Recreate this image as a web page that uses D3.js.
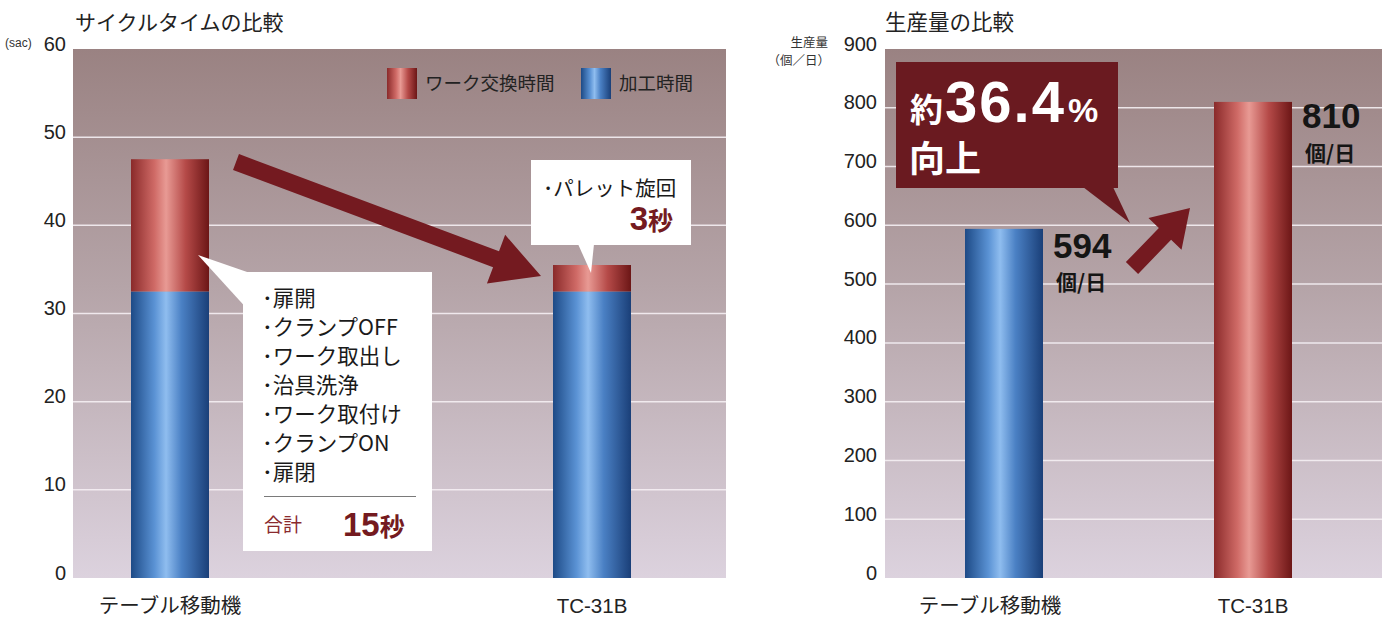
<!DOCTYPE html>
<html><head><meta charset="utf-8">
<script src="https://cdn.jsdelivr.net/npm/d3@7"></script>
<style>
html,body{margin:0;padding:0;background:#fff;}
svg{display:block;}
.jp{font-family:"Noto Sans CJK JP","Noto Sans",sans-serif;}
.num{font-family:"Liberation Sans Narrow","Liberation Sans",Arial,sans-serif;}
.bold{font-family:"Liberation Sans",Arial,sans-serif;font-weight:bold;}
</style></head>
<body>
<script>
// ---- data ----
const categories = ["テーブル移動機", "TC-31B"];
const machiningTime = [32.5, 32.5];      // 加工時間 (sec)
const workChangeTime = [15, 3];          // ワーク交換時間 (sec)
const cycleTicks = [0, 10, 20, 30, 40, 50, 60];
const production = [594, 810];           // 個/日
const productionTicks = [0, 100, 200, 300, 400, 500, 600, 700, 800, 900];
const seriesNames = ["ワーク交換時間", "加工時間"];
const changeSteps = ["扉開", "クランプOFF", "ワーク取出し", "治具洗浄", "ワーク取付け", "クランプON", "扉閉"];
const improvement = "36.4";

const W = 1382, H = 620;
const svg = d3.select("body").append("svg").attr("width", W).attr("height", H);
const defs = svg.append("defs");

function hGrad(id, stops){
  const g = defs.append("linearGradient").attr("id", id).attr("x1","0").attr("x2","1").attr("y1","0").attr("y2","0");
  stops.forEach(([o,c]) => g.append("stop").attr("offset", o).attr("stop-color", c));
}
hGrad("blueG", [["0","#1d4a86"],["0.3","#5a92d4"],["0.45","#8fbdef"],["0.65","#4a80c4"],["1","#1a3f78"]]);
hGrad("redG", [["0","#8a2a2a"],["0.3","#cf6a66"],["0.45","#e89a94"],["0.7","#b54a48"],["1","#6c1616"]]);
const bg = defs.append("linearGradient").attr("id","bgG").attr("x1","0").attr("x2","0").attr("y1","0").attr("y2","1");
[["0","#9a8282"],["0.45","#b5a4a8"],["1","#dcd2de"]].forEach(([o,c]) => bg.append("stop").attr("offset",o).attr("stop-color",c));

const yTop = 49, yBot = 578;
const dark = "#741a20";

// ================= LEFT CHART =================
const L = {x0: 73, x1: 726};
const yL = d3.scaleLinear().domain([0, 60]).range([yBot, yTop]);
const xL = d3.scalePoint().domain(categories).range([170, 592]);
const barW = 78;

svg.append("rect").attr("x", L.x0).attr("y", yTop).attr("width", L.x1 - L.x0).attr("height", yBot - yTop).attr("fill", "url(#bgG)");
svg.append("g").selectAll("line").data(cycleTicks.filter(t => t > 0 && t < 60)).join("line")
  .attr("x1", L.x0).attr("x2", L.x1).attr("y1", d => yL(d)).attr("y2", d => yL(d))
  .attr("stroke", "#f6f0f4").attr("stroke-width", 1.5).attr("opacity", 0.9);

const axL = svg.append("g").attr("transform", `translate(${L.x0 - 7},0)`)
  .call(d3.axisLeft(yL).tickValues(cycleTicks).tickSize(0).tickPadding(0));
axL.select(".domain").remove();
axL.selectAll("text").attr("class", "num").attr("font-size", 20).attr("fill", "#222").attr("dy", "0.05em");

svg.append("text").attr("class","num").attr("x", 5).attr("y", 47).attr("font-size", 12).attr("fill", "#333").text("(sac)");
svg.append("text").attr("class","jp").attr("x", 75).attr("y", 30).attr("font-size", 21).attr("fill", "#222").text("サイクルタイムの比較");

// stacked bars
const stacked = categories.map((c, i) => ({c, m: machiningTime[i], w: workChangeTime[i]}));
svg.append("g").selectAll("rect").data(stacked).join("rect")
  .attr("x", d => xL(d.c) - barW/2).attr("width", barW)
  .attr("y", d => yL(d.m)).attr("height", d => yL(0) - yL(d.m)).attr("fill", "url(#blueG)");
svg.append("g").selectAll("rect").data(stacked).join("rect")
  .attr("x", d => xL(d.c) - barW/2).attr("width", barW)
  .attr("y", d => yL(d.m + d.w)).attr("height", d => yL(d.m) - yL(d.m + d.w)).attr("fill", "url(#redG)");

svg.append("g").selectAll("text").data(categories).join("text")
  .attr("class", (d,i) => i === 0 ? "jp" : "num")
  .attr("x", d => xL(d)).attr("y", 613).attr("text-anchor", "middle")
  .attr("font-size", 20.5).attr("fill", "#222").text(d => d);

// legend
const legend = [{name: seriesNames[0], fill: "url(#redG)", x: 387}, {name: seriesNames[1], fill: "url(#blueG)", x: 581}];
const lg = svg.append("g").selectAll("g").data(legend).join("g").attr("transform", d => `translate(${d.x},68)`);
lg.append("rect").attr("width", 30).attr("height", 31).attr("fill", d => d.fill);
lg.append("text").attr("class","jp").attr("x", 38).attr("y", 22).attr("font-size", 18.5).attr("fill", "#222").text(d => d.name);

// big arrow
function arrow(g, x1, y1, x2, y2, shaftW, headW, headL){
  const dx = x2 - x1, dy = y2 - y1, len = Math.hypot(dx, dy);
  const ux = dx/len, uy = dy/len, px = -uy, py = ux;
  const bx = x2 - ux*headL, by = y2 - uy*headL;
  const pts = [
    [x1 + px*shaftW/2, y1 + py*shaftW/2],
    [bx + px*shaftW/2, by + py*shaftW/2],
    [bx + px*headW/2, by + py*headW/2],
    [x2, y2],
    [bx - px*headW/2, by - py*headW/2],
    [bx - px*shaftW/2, by - py*shaftW/2],
    [x1 - px*shaftW/2, y1 - py*shaftW/2]];
  g.append("polygon").attr("points", pts.map(p => p.join(",")).join(" ")).attr("fill", dark);
}
arrow(svg, 236, 162, 541, 276, 17, 52, 48);

// callout 1 (left)
svg.append("polygon").attr("points", "198,255 250,273 250,312").attr("fill", "#fff");
svg.append("rect").attr("x", 243).attr("y", 272).attr("width", 189).attr("height", 279).attr("fill", "#fff");
svg.append("g").selectAll("text").data(changeSteps).join("text")
  .attr("class","jp").attr("x", 262).attr("y", (d,i) => 306 + i*29).attr("font-size", 21.5).attr("fill", "#1a1a1a")
  .text(d => "･" + d);
svg.append("line").attr("x1", 264).attr("x2", 416).attr("y1", 496.5).attr("y2", 496.5).attr("stroke", "#7a7a7a").attr("stroke-width", 1);
svg.append("text").attr("class","jp").attr("x", 264).attr("y", 532).attr("font-size", 19).attr("fill", "#8a2a2e").text("合計");
const t15 = svg.append("text").attr("x", 343).attr("y", 536).attr("fill", dark);
t15.append("tspan").attr("class","bold").attr("font-size", 33).text(workChangeTime[0]);
t15.append("tspan").attr("class","jp").attr("font-weight", "bold").attr("font-size", 25).text("秒");

// callout 2 (TC-31B)
svg.append("rect").attr("x", 531).attr("y", 160).attr("width", 160).attr("height", 85).attr("fill", "#fff");
svg.append("polygon").attr("points", "578,244 594,244 591,273").attr("fill", "#fff");
svg.append("text").attr("class","jp").attr("x", 543).attr("y", 196).attr("font-size", 20.5).attr("fill", "#1a1a1a")
  .text("･パレット旋回");
const t3 = svg.append("text").attr("x", 673).attr("y", 230).attr("text-anchor", "end").attr("fill", dark);
t3.append("tspan").attr("class","bold").attr("font-size", 33).text(workChangeTime[1]);
t3.append("tspan").attr("class","jp").attr("font-weight", "bold").attr("font-size", 25).text("秒");

// ================= RIGHT CHART =================
const R = {x0: 885, x1: 1382};
const yR = d3.scaleLinear().domain([0, 900]).range([yBot, yTop]);
const xR = d3.scalePoint().domain(categories).range([1004, 1253]);

svg.append("rect").attr("x", R.x0).attr("y", yTop).attr("width", R.x1 - R.x0).attr("height", yBot - yTop).attr("fill", "url(#bgG)");
svg.append("g").selectAll("line").data(productionTicks.filter(t => t > 0 && t < 900)).join("line")
  .attr("x1", R.x0).attr("x2", R.x1).attr("y1", d => yR(d)).attr("y2", d => yR(d))
  .attr("stroke", "#f6f0f4").attr("stroke-width", 1.5).attr("opacity", 0.9);

const axR = svg.append("g").attr("transform", `translate(${R.x0 - 8},0)`)
  .call(d3.axisLeft(yR).tickValues(productionTicks).tickSize(0).tickPadding(0));
axR.select(".domain").remove();
axR.selectAll("text").attr("class", "num").attr("font-size", 20).attr("fill", "#222").attr("dy", "0.05em");

svg.append("text").attr("class","jp").attr("x", 885).attr("y", 30).attr("font-size", 21.5).attr("fill", "#222").text("生産量の比較");
svg.append("text").attr("class","jp").attr("x", 828).attr("y", 47).attr("text-anchor","end").attr("font-size", 12.5).attr("fill", "#333").text("生産量");
svg.append("text").attr("class","jp").attr("x", 830).attr("y", 65).attr("text-anchor","end").attr("font-size", 12.5).attr("fill", "#333").text("（個／日）");

const prodColors = ["url(#blueG)", "url(#redG)"];
svg.append("g").selectAll("rect").data(categories).join("rect")
  .attr("x", d => xR(d) - barW/2).attr("width", barW)
  .attr("y", (d,i) => yR(production[i])).attr("height", (d,i) => yR(0) - yR(production[i]))
  .attr("fill", (d,i) => prodColors[i]);

svg.append("g").selectAll("text").data(categories).join("text")
  .attr("class", (d,i) => i === 0 ? "jp" : "num")
  .attr("x", (d,i) => xR(d) + (i === 0 ? -14 : 0)).attr("y", 613).attr("text-anchor", "middle")
  .attr("font-size", 20.5).attr("fill", "#222").text(d => d);

// value labels
const valOff = [[1053, 258, 1056, 290], [1302, 128, 1305, 161]];
categories.forEach((c, i) => {
  const [vx, vy, ux, uy] = valOff[i];
  svg.append("text").attr("class","bold").attr("x", vx).attr("y", vy).attr("font-size", 35).attr("fill", "#151515").text(production[i]);
  svg.append("text").attr("class","jp").attr("font-weight","bold").attr("x", ux).attr("y", uy).attr("font-size", 21).attr("fill", "#151515").text("個/日");
});

// dark callout
svg.append("rect").attr("x", 896).attr("y", 62).attr("width", 222).attr("height", 126).attr("fill", "#6a1a20");
svg.append("polygon").attr("points", "1083,187 1113,187 1130,223").attr("fill", "#6a1a20");
const tp = svg.append("text").attr("x", 910).attr("y", 122).attr("fill", "#fff");
tp.append("tspan").attr("class","jp").attr("font-weight","bold").attr("font-size", 33).text("約");
tp.append("tspan").attr("class","bold").attr("font-size", 58).attr("dx", 2).attr("letter-spacing", 2).text(improvement);
tp.append("tspan").attr("class","bold").attr("font-size", 34).attr("font-weight","normal").attr("dx", 2).text("%");
svg.append("text").attr("class","jp").attr("font-weight","bold").attr("x", 909).attr("y", 172).attr("font-size", 36).attr("fill", "#fff").text("向上");

arrow(svg, 1132, 268, 1190, 208, 17, 46, 36);
</script>
</body></html>
